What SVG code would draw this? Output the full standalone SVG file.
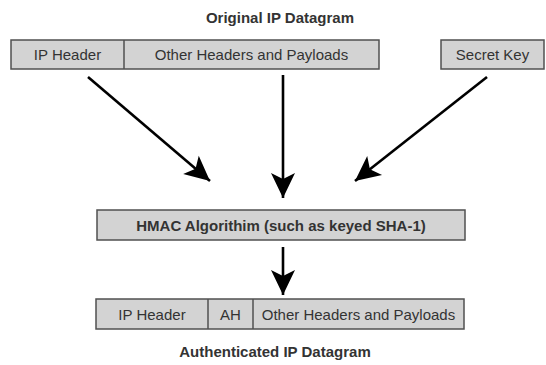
<svg xmlns="http://www.w3.org/2000/svg" width="546" height="365" viewBox="0 0 546 365">
  <defs>
    <style>
      .box { fill: #d3d3d3; stroke: #505050; stroke-width: 1.5; }
      .div { stroke: #505050; stroke-width: 1.5; }
      .lbl { font-family: "Liberation Sans", Arial, sans-serif; font-size: 15px; fill: #333; text-anchor: middle; }
      .bold { font-weight: bold; }
      .wire { stroke: #000; stroke-width: 2.6; fill: none; marker-end: url(#head); }
    </style>
    <marker id="head" markerUnits="userSpaceOnUse" viewBox="-26 -13 28 26" refX="0" refY="0" markerWidth="28" markerHeight="26" orient="auto">
      <path d="M0,0 L-25,-12 L-19,0 L-25,12 Z" fill="#000"/>
    </marker>
  </defs>
  <rect width="546" height="365" fill="#fff"/>

  <text class="lbl bold" x="280" y="23">Original IP Datagram</text>

  <g id="original-datagram">
    <rect class="box" x="11" y="40" width="368" height="29"/>
    <line class="div" x1="124" y1="40" x2="124" y2="69"/>
    <text class="lbl" x="67.5" y="60">IP Header</text>
    <text class="lbl" x="251.5" y="60">Other Headers and Payloads</text>
  </g>

  <g id="secret-key">
    <rect class="box" x="441" y="40" width="103" height="29"/>
    <text class="lbl" x="492.5" y="60">Secret Key</text>
  </g>

  <g id="hmac">
    <rect class="box" x="97" y="210" width="368" height="30"/>
    <text class="lbl bold" x="281" y="230.5">HMAC Algorithim (such as keyed SHA-1)</text>
  </g>

  <g id="authenticated-datagram">
    <rect class="box" x="96" y="299" width="368" height="30"/>
    <line class="div" x1="208" y1="299" x2="208" y2="329"/>
    <line class="div" x1="253" y1="299" x2="253" y2="329"/>
    <text class="lbl" x="152" y="319.5">IP Header</text>
    <text class="lbl" x="230.5" y="319.5">AH</text>
    <text class="lbl" x="358.5" y="319.5">Other Headers and Payloads</text>
  </g>

  <text class="lbl bold" x="275" y="357">Authenticated IP Datagram</text>

  <g id="connectors">
    <line class="wire" x1="88" y1="77" x2="210" y2="181"/>
    <line class="wire" x1="283" y1="75" x2="283" y2="198"/>
    <line class="wire" x1="487" y1="77" x2="355" y2="181"/>
    <line class="wire" x1="283" y1="247" x2="283" y2="295"/>
  </g>
</svg>
